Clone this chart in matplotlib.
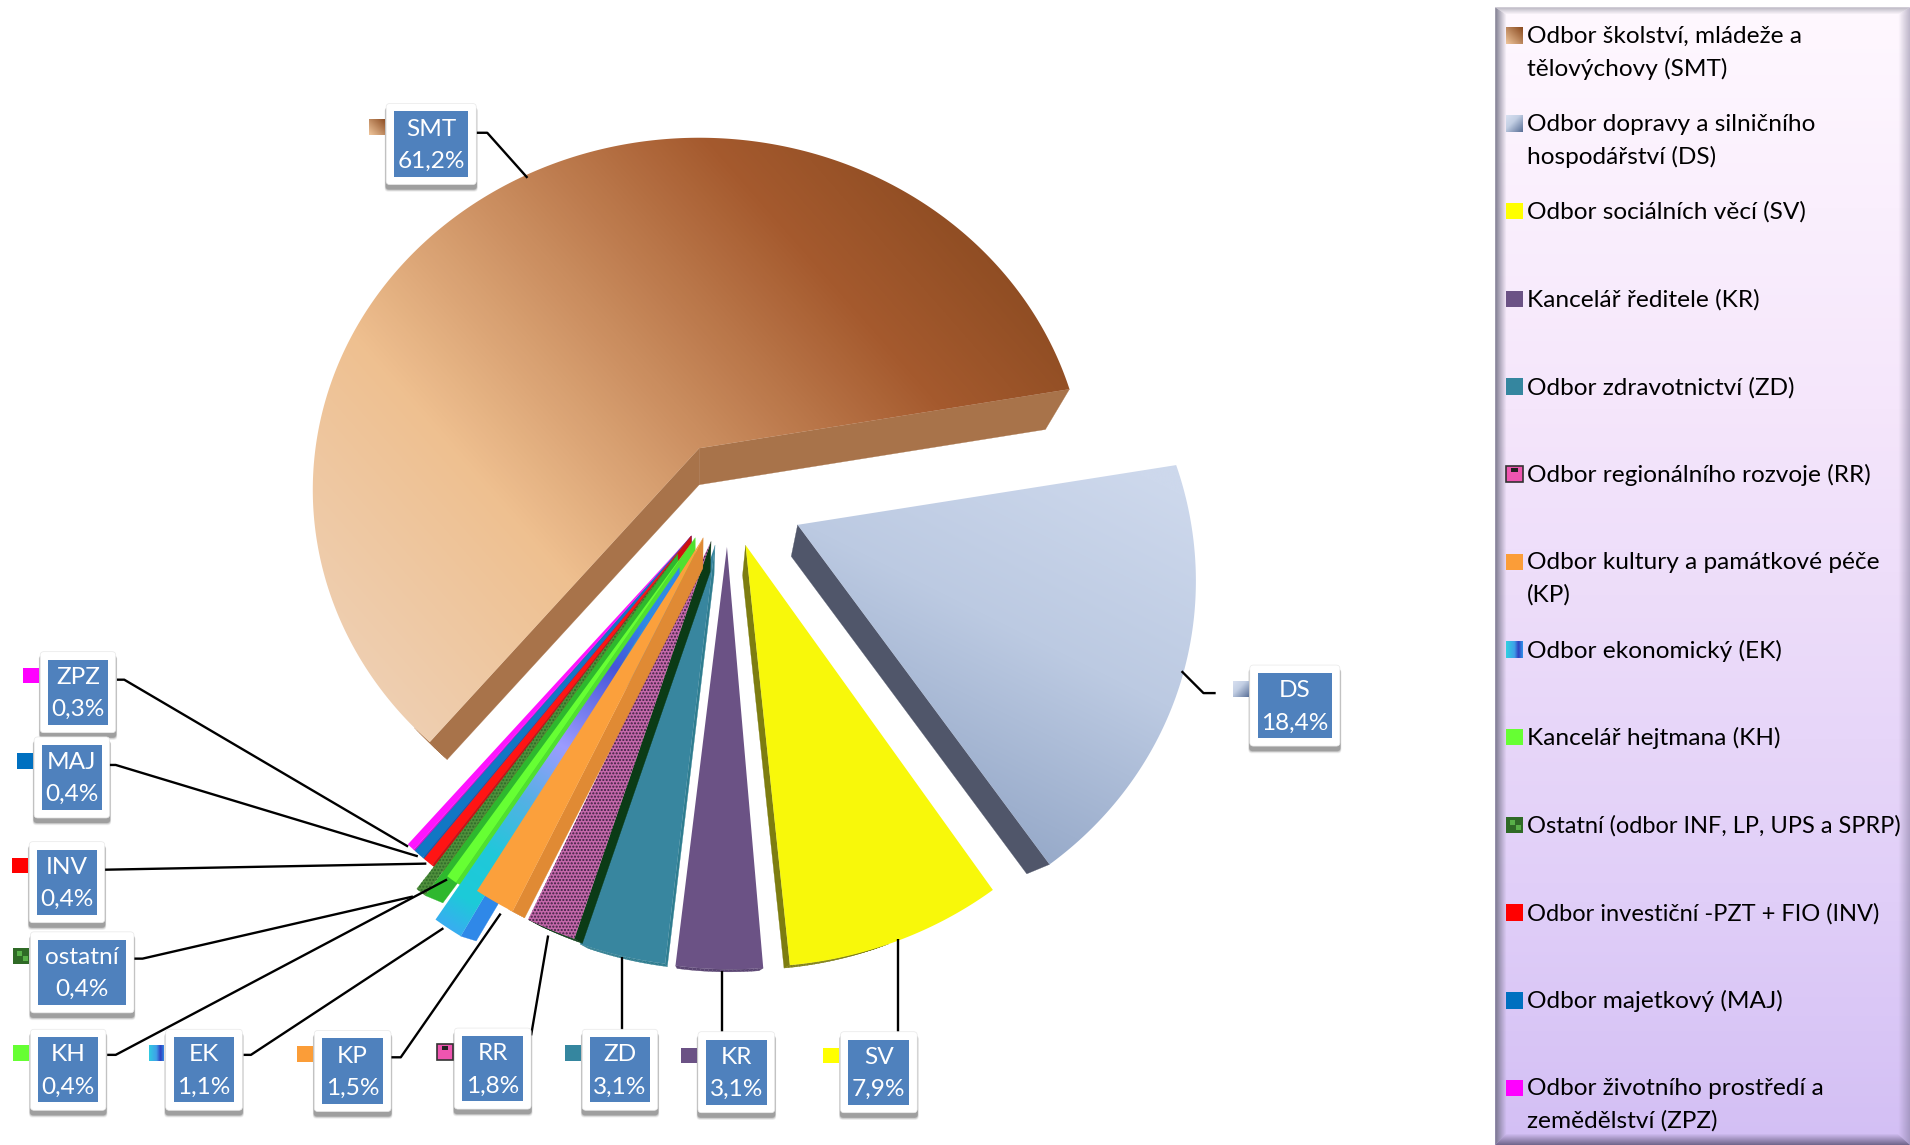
import numpy as np
import matplotlib
matplotlib.use("Agg")
import matplotlib.pyplot as plt
from matplotlib.patches import Polygon, Rectangle, FancyBboxPatch
from matplotlib.colors import LinearSegmentedColormap

plt.rcParams['font.family'] = ['Lato', 'DejaVu Sans']

# ---- data ----
codes = ['SMT', 'DS', 'SV', 'KR', 'ZD', 'RR', 'KP', 'EK', 'KH', 'ostatní', 'INV', 'MAJ', 'ZPZ']
shares = [61.2, 18.4, 7.9, 3.1, 3.1, 1.8, 1.5, 1.1, 0.4, 0.4, 0.4, 0.4, 0.3]
value_labels = ['61,2%', '18,4%', '7,9%', '3,1%', '3,1%', '1,8%', '1,5%', '1,1%', '0,4%', '0,4%', '0,4%', '0,4%', '0,3%']
legend_names = [
    'Odbor školství, mládeže a\ntělovýchovy (SMT)',
    'Odbor dopravy a silničního\nhospodářství (DS)',
    'Odbor sociálních věcí (SV)',
    'Kancelář ředitele (KR)',
    'Odbor zdravotnictví (ZD)',
    'Odbor regionálního rozvoje (RR)',
    'Odbor kultury a památkové péče\n(KP)',
    'Odbor ekonomický (EK)',
    'Kancelář hejtmana (KH)',
    'Ostatní (odbor INF, LP, UPS a SPRP)',
    'Odbor investiční -PZT + FIO (INV)',
    'Odbor majetkový (MAJ)',
    'Odbor životního prostředí a\nzemědělství (ZPZ)',
]
face_colors = ['#b0683a', '#b8c6de', '#f8f80a', '#6b5285', '#38869f', '#c468aa', '#fba03c',
               '#2cc0dc', '#66ff33', '#4f8f3c', '#ff1414', '#1177c4', '#ff14ff']
wall_colors = ['#a8734a', '#50566a', '#7d7d10', '#5a4572', '#2f7d90', '#0b3b16', '#e08a34',
               '#2f88e8', '#50e030', '#2eb82e', '#cc1010', '#0f66a8', '#d010d0']
leg_colors = ['#b0683a', '#b8c6de', '#ffff00', '#6b5285', '#35869f', '#d85aa8', '#fb9d38',
              '#2c9fe0', '#66ff33', '#3d7a2c', '#ff0000', '#0070c0', '#ff00ff']
legend_sizes = [17.6, 17.6, 17.6, 17.6, 17.6, 17.6, 17.6, 17.6, 17.6, 17.05, 17.0, 17.6, 17.6]

# ---- layout (axes units = 1568 wide reference view) ----
explode_x = [0, .25, .117, .07, .04, .03, .01, -.05, -.01, -.054, -.02, -.02, -.02]
explode_y = [0, -.215, -.27, -.275, -.27, -.26, -.25, -.33, -.25, -.294, -.245, -.245, -.245]
nudge_deg = [0, .4, .5, 1.2, .8, 1, 2, 0, 0, .2, .4, .6, .8]
draw_order = [0, 1, 2, 3, 4, 5, 12, 11, 10, 9, 8, 7, 6]
box_x0 = [317, 1026, 690, 573, 478, 373, 258, 136, 25, 25, 24, 28, 33]
box_x1 = [391, 1100, 753, 636, 540, 436, 321, 199, 87, 110, 86, 90, 95]
box_y0 = [85, 546, 847, 847, 845, 844, 846, 845, 845, 765, 691, 605, 535]
leaders = [
    [(391, 109), (400, 109), (433, 146)],
    [(970, 551), (988, 569), (998, 569)],
    [(737, 849), (737, 771)],
    [(593, 849), (593, 797)],
    [(511, 847), (511, 786)],
    [(436, 850), (450, 768)],
    [(321, 868), (329, 868), (411, 750)],
    [(200, 866), (206, 866), (364, 762)],
    [(88, 866), (95, 866), (367, 722)],
    [(110, 787), (117, 787), (339, 736)],
    [(86, 714), (350, 709)],
    [(89, 628), (95, 628), (343, 703)],
    [(96, 558), (102, 558), (335, 695)],
]
CX, CY, RX, RY, PERSP = 574, 368, 315, 285, .118
VX, VY, DEPTH = 574, 829, .065
START = 80.0  # clockwise from top, SMT's trailing edge

fig = plt.figure(figsize=(19.10, 11.45), dpi=100)
ax = fig.add_axes([0, 0, 1, 1])
ax.set_xlim(0, 1568)
ax.set_ylim(940, 0)
ax.axis('off')


def project(X, Y):
    w = 1 + PERSP * np.asarray(Y)
    return np.column_stack([CX + RX * np.asarray(X) / w, CY - RY * np.asarray(Y) / w])


def under(p):
    return p + DEPTH * (np.array([VX, VY]) - p)


def gradient_fill(poly_xy, p0, p1, stops, z, res=2):
    poly_xy = np.asarray(poly_xy)
    x0, y0 = poly_xy.min(0) - 1
    x1, y1 = poly_xy.max(0) + 1
    nx = max(int((x1 - x0) * res), 2)
    ny = max(int((y1 - y0) * res), 2)
    xs, ys = np.meshgrid(np.linspace(x0, x1, nx), np.linspace(y0, y1, ny))
    d = np.array(p1, float) - np.array(p0, float)
    t = ((xs - p0[0]) * d[0] + (ys - p0[1]) * d[1]) / (d @ d)
    cmap = LinearSegmentedColormap.from_list('g', stops)
    im = ax.imshow(t, extent=(x0, x1, y1, y0), origin='upper', cmap=cmap, vmin=0, vmax=1,
                   aspect='auto', zorder=z, interpolation='bilinear')
    clip = Polygon(poly_xy, closed=True, transform=ax.transData, fc='none', ec='none')
    ax.add_patch(clip)
    im.set_clip_path(clip)
    return im


smt_stops = [(0, '#eed3bb'), (.3, '#efc090'), (.72, '#a55a2e'), (1, '#7d421a')]
ds_stops = [(0, '#8fa3c4'), (.55, '#bccae2'), (1, '#cdd8ec')]
ek_stops = [(0, '#38aef0'), (.08, '#1ccbd8'), (.2, '#20c8da'), (.35, '#55b0e4'), (.5, '#9c9cff'),
            (.72, '#4655d8'), (.85, '#2e88e8'), (1, '#2e88e8')]

# ---- pie ----
spans = []
a = START - shares[0] * 3.6
for s in shares:
    spans.append((a, a + s * 3.6))
    a += s * 3.6

z = 2
for i in draw_order:
    a0, a1 = spans[i]
    a0 += nudge_deg[i]
    a1 += nudge_deg[i]
    th = np.radians(np.linspace(a0, a1, max(int(a1 - a0) * 2, 6)))
    X = np.r_[explode_x[i], explode_x[i] + np.sin(th)]
    Y = np.r_[explode_y[i], explode_y[i] + np.cos(th)]
    top = project(X, Y)
    closed = np.vstack([top, top[:1]])
    low = np.array([under(p) for p in closed])
    area = np.sum(closed[:-1, 0] * closed[1:, 1] - closed[1:, 0] * closed[:-1, 1])
    for j in range(len(closed) - 1):
        seg = closed[j + 1] - closed[j]
        normal = np.array([seg[1], -seg[0]]) * np.sign(area)
        mid = (closed[j] + closed[j + 1]) / 2
        if normal @ (under(mid) - mid) <= 0:
            continue
        q = np.array([closed[j], closed[j + 1], low[j + 1], low[j]])
        ax.add_patch(Polygon(q, closed=True, fc=wall_colors[i], ec=wall_colors[i], lw=.2, zorder=z))
    z += 1
    if codes[i] == 'SMT':
        gradient_fill(top, (300, 640), (880, 130), smt_stops, z)
    elif codes[i] == 'DS':
        gradient_fill(top, (800, 720), (960, 400), ds_stops, z)
    elif codes[i] == 'EK':
        gradient_fill(top, top[len(top) // 2], top[0], ek_stops, z, res=3)
    elif codes[i] == 'RR':
        ax.add_patch(Polygon(top, closed=True, fc=face_colors[i], ec='#3a2040', lw=0, hatch='.....', zorder=z))
    elif codes[i] == 'ostatní':
        ax.add_patch(Polygon(top, closed=True, fc=face_colors[i], ec='#2d6a28', lw=0, hatch='.....', zorder=z))
    else:
        ax.add_patch(Polygon(top, closed=True, fc=face_colors[i], ec='none', lw=0, zorder=z))
    z += 1

# ---- leaders and labels ----
for pts in leaders:
    xs, ys = zip(*pts)
    ax.plot(xs, ys, color='black', lw=1.7, zorder=60, solid_capstyle='butt')


def small_marker(x, y, i, size=13, zz=70):
    square = [(x, y), (x + size, y), (x + size, y + size), (x, y + size)]
    if codes[i] == 'SMT':
        gradient_fill(square, (x, y + size), (x + size, y), [(0, '#eec49a'), (1, '#8a4a20')], zz, res=3)
    elif codes[i] == 'DS':
        gradient_fill(square, (x + size, y + size), (x, y), [(0, '#5a7097'), (.6, '#c3cfe4'), (1, '#d8e0f0')], zz, res=3)
    elif codes[i] == 'EK':
        gradient_fill(square, (x, y), (x + size, y),
                      [(0, '#30d0e0'), (.5, '#3fa0e8'), (.75, '#3040c0'), (1, '#3090e8')], zz, res=3)
    elif codes[i] == 'RR':
        ax.add_patch(Rectangle((x, y), size, size, fc='#ee55b0', ec='#333333', lw=1.2, zorder=zz))
        ax.add_patch(Rectangle((x + 4, y + 2), size - 8, 3, fc='#222222', ec='none', zorder=zz + 1))
    elif codes[i] == 'ostatní':
        ax.add_patch(Rectangle((x, y), size, size, fc='#2f6a26', ec='none', zorder=zz))
        ax.add_patch(Rectangle((x + 3, y + 3), 4, 4, fc='#58b048', ec='none', zorder=zz + 1))
        ax.add_patch(Rectangle((x + 8, y + 7), 4, 4, fc='#58b048', ec='none', zorder=zz + 1))
    else:
        ax.add_patch(Rectangle((x, y), size, size, fc=leg_colors[i], ec='none', zorder=zz))


for i in range(len(codes)):
    x0, x1, y0 = box_x0[i], box_x1[i], box_y0[i]
    h = 66.5
    for k, al in zip((5, 4, 3, 2), (.05, .08, .12, .18)):
        ax.add_patch(FancyBboxPatch((x0 - k * .25, y0 + 3), x1 - x0 + k * .5, h + k * .6,
                                    boxstyle='round,pad=0,rounding_size=3', fc='black', ec='none',
                                    alpha=al, zorder=61))
    ax.add_patch(FancyBboxPatch((x0, y0), x1 - x0, h, boxstyle='round,pad=0,rounding_size=3',
                                fc='white', ec='#e8e8e8', lw=.5, zorder=62))
    ax.add_patch(Rectangle((x0 + 6.5, y0 + 6.5), x1 - x0 - 13, h - 13, fc='#4f81bd', ec='none', zorder=63))
    xc = (x0 + x1) / 2
    ax.text(xc, y0 + 21, codes[i], color='white', fontsize=17.6, ha='center', va='center', zorder=64)
    ax.text(xc, y0 + 47.5, value_labels[i], color='white', fontsize=17.6, ha='center', va='center', zorder=64)
    small_marker(x0 - 14, y0 + 13, i)

# ---- legend panel ----
PX0, PX1, PY0, PY1 = 1227.5, 1568, 6, 940
yy = np.linspace(0, 1, 300)[:, None]
pcm = LinearSegmentedColormap.from_list('p', [(0, '#fff8ff'), (.35, '#f5e6fb'), (.79, '#e0cef8'), (1, '#d3bff4')])
ax.imshow(yy, extent=(PX0, PX1, PY1, PY0), origin='upper', cmap=pcm, aspect='auto', zorder=1)


def bevel(poly, p0, p1, rgb, alpha):
    gradient_fill(poly, p0, p1, [(0, (*rgb, alpha)), (1, (*rgb, 0))], 2, res=3)


BL, BR, BT, BB = 9, 10, 6, 9
bevel([(PX0, PY0), (PX0 + BL, PY0 + BT), (PX0 + BL, PY1 - BB), (PX0, PY1)],
      (PX0, 0), (PX0 + BL, 0), (.42, .42, .50), .85)
bevel([(PX1, PY0), (PX1 - BR, PY0 + BT), (PX1 - BR, PY1 - BB), (PX1, PY1)],
      (PX1, 0), (PX1 - BR, 0), (.45, .42, .55), .5)
bevel([(PX0, PY0), (PX1, PY0), (PX1 - BR, PY0 + BT), (PX0 + BL, PY0 + BT)],
      (0, PY0), (0, PY0 + BT), (.55, .55, .60), .6)
bevel([(PX0, PY1), (PX1, PY1), (PX1 - BR, PY1 - BB), (PX0 + BL, PY1 - BB)],
      (0, PY1), (0, PY1 - BB), (.40, .36, .50), .9)

for i, name in enumerate(legend_names):
    y = 30 + 72 * i
    small_marker(1236.5, y - 7.5, i, size=13.5, zz=10)
    for j, line in enumerate(name.split('\n')):
        ax.text(1253.5, y + 26.5 * j, line, color='black', fontsize=legend_sizes[i],
                ha='left', va='center', zorder=11, clip_on=True)

ax.set_xlim(0, 1568)
ax.set_ylim(940, 0)
fig.savefig('out.png', dpi=100, facecolor='white')
